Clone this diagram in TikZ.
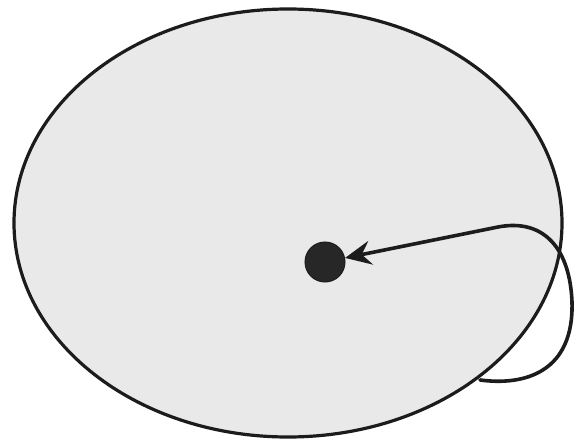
\documentclass[tikz,border=0pt]{standalone}
\usetikzlibrary{shapes.geometric,arrows.meta}
\definecolor{paper}{RGB}{233,233,233}
\definecolor{ink}{RGB}{28,28,28}
\tikzset{
  region/.style={ellipse, draw=ink, fill=paper, line width=3.2pt, minimum width=548pt, minimum height=428pt, inner sep=0pt},
  spot/.style={circle, draw=ink, fill=ink!95, line width=1pt, minimum size=40pt, inner sep=0pt},
  flow/.style={draw=ink, line width=3.6pt, line cap=round, -{Stealth[length=26pt,width=24pt,inset=9pt]}}
}
\begin{document}
\begin{tikzpicture}[x=1pt,y=-1pt]
\useasboundingbox (0,0) rectangle (574,442);
\fill[white] (0,0) rectangle (574,442);
\node[region] (E) at (288,223) {};
\node[spot] (D) at (325,262) {};
\coordinate (S) at (480,380);
\draw[flow] (S) .. controls (525,386) and (574,372) .. (572,302)
  .. controls (570,250) and (545,218) .. (498,227) -- (D);
\end{tikzpicture}
\end{document}
